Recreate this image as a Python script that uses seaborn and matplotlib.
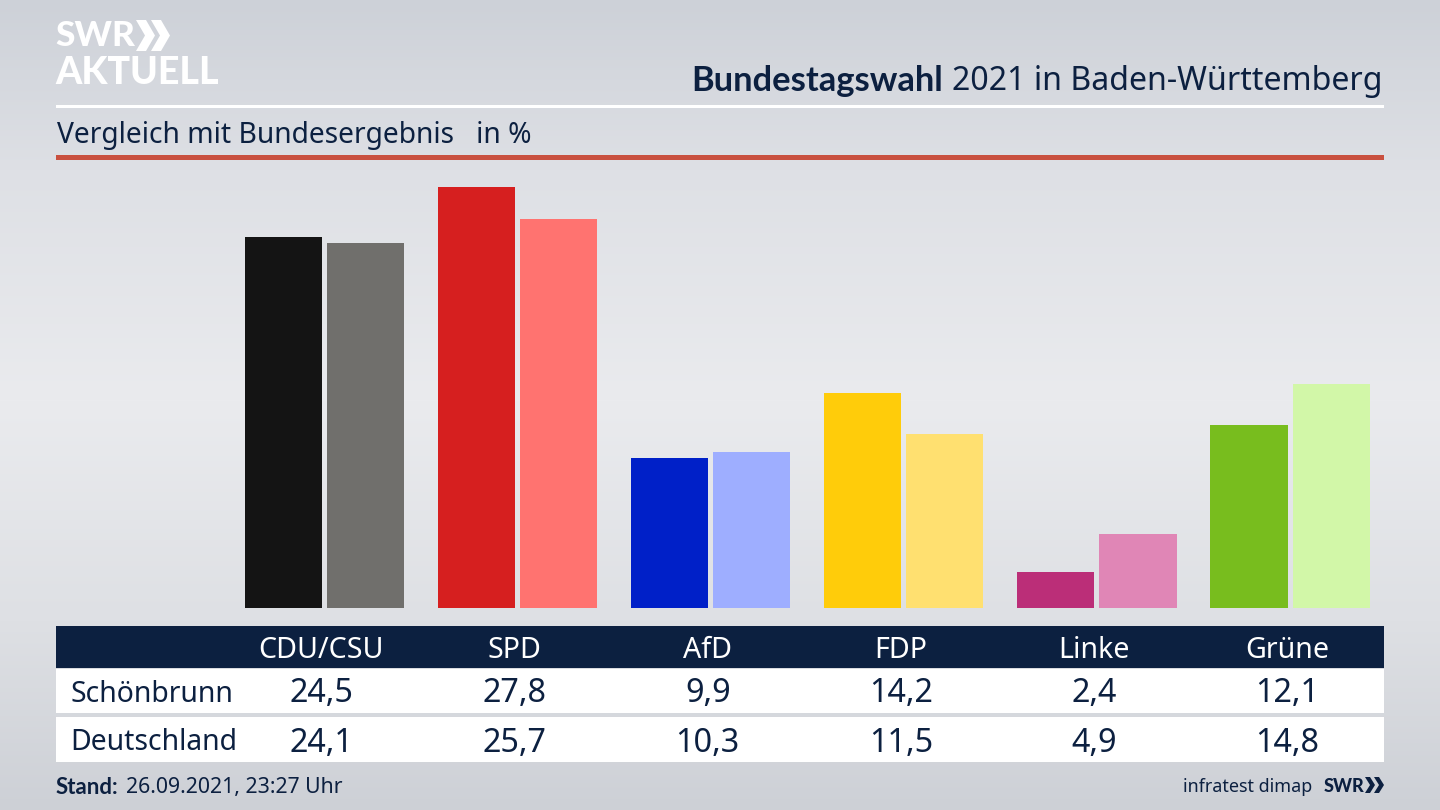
import numpy as np
import pandas as pd
import seaborn as sns
from matplotlib import pyplot as plt
from matplotlib.patches import Polygon, Rectangle

parties = ["CDU/CSU", "SPD", "AfD", "FDP", "Linke", "Grüne"]
schoenbrunn = [24.5, 27.8, 9.9, 14.2, 2.4, 12.1]
deutschland = [24.1, 25.7, 10.3, 11.5, 4.9, 14.8]
colors_schoenbrunn = ["#141414", "#d61f1f", "#0020c8", "#ffcc0a", "#bb2e78", "#78bd1e"]
colors_deutschland = ["#706f6c", "#ff7370", "#9eaeff", "#ffe070", "#e086b6", "#d2f7a8"]

NAVY = "#0c2040"
BOLD = ["Lato", "Open Sans", "DejaVu Sans"]

sns.set_theme(style="white")
plt.rcParams["font.family"] = ["Noto Sans", "DejaVu Sans"]

df = pd.DataFrame({
    "partei": parties * 2,
    "gebiet": ["Schönbrunn"] * 6 + ["Deutschland"] * 6,
    "prozent": schoenbrunn + deutschland,
})

fig = plt.figure(figsize=(14.4, 8.1), dpi=100)

# background and furniture, in pixel coordinates
bg = fig.add_axes([0, 0, 1, 1])
bg.set_xlim(0, 1440)
bg.set_ylim(810, 0)
bg.set_axis_off()
stops_y = [0, 170, 400, 620, 810]
stops_c = np.array([[205, 209, 216], [222, 224, 229], [234, 235, 238],
                    [222, 224, 228], [205, 208, 214]]) / 255
yy = np.arange(810)
grad = np.stack([np.interp(yy, stops_y, stops_c[:, i]) for i in range(3)], axis=1)
bg.imshow(grad[:, None, :], extent=(0, 1440, 810, 0), aspect="auto", zorder=0)

bg.add_patch(Rectangle((56, 105), 1328, 2.5, color="white", lw=0, zorder=1))
bg.add_patch(Rectangle((56, 155), 1328, 5, color="#c9503f", lw=0, zorder=1))
bg.add_patch(Rectangle((56, 626), 1328, 42, color=NAVY, lw=0, zorder=1))
bg.add_patch(Rectangle((56, 669), 1328, 44, color="white", lw=0, zorder=1))
bg.add_patch(Rectangle((56, 717), 1328, 45, color="white", lw=0, zorder=1))

# bars
ax = fig.add_axes([228 / 1440, (810 - 608) / 810, 1158.6 / 1440, 440 / 810])
ax.patch.set_alpha(0)
sns.barplot(data=df, x="partei", y="prozent", hue="gebiet", order=parties,
            hue_order=["Schönbrunn", "Deutschland"], width=0.85, gap=0.06,
            legend=False, ax=ax)
for bars, cols in zip(ax.containers, [colors_schoenbrunn, colors_deutschland]):
    for bar, col in zip(bars, cols):
        bar.set_facecolor(col)
        bar.set_edgecolor("none")
ax.set_xlim(-0.5, 5.5)
ax.set_ylim(0, 440 / 15.14)
ax.set_axis_off()

# table text, columns follow the bar axis
def col_px(i):
    return 321.5 + i * 193.1

for i, p in enumerate(parties):
    bg.text(col_px(i), 650, p, color="white", fontsize=20.6, ha="center", va="center", zorder=3)
    bg.text(col_px(i), 694, f"{schoenbrunn[i]:.1f}".replace(".", ","), color=NAVY,
            fontsize=23.3, ha="center", va="center", zorder=3)
    bg.text(col_px(i), 743, f"{deutschland[i]:.1f}".replace(".", ","), color=NAVY,
            fontsize=23.3, ha="center", va="center", zorder=3)
bg.text(70, 694, "Schönbrunn", color=NAVY, fontsize=20.4, va="center", zorder=3)
bg.text(70, 742, "Deutschland", color=NAVY, fontsize=20.4, va="center", zorder=3)

# heading
renderer = fig.canvas.get_renderer()
t = bg.text(1383, 81, "2021 in Baden-Württemberg", color=NAVY, fontsize=23.1,
            ha="right", va="center", zorder=3)
left = t.get_window_extent(renderer).x0
bg.text(left - 9, 81, "Bundestagswahl", color=NAVY, fontsize=24.8, fontweight="bold",
        family=BOLD, ha="right", va="center", zorder=3)
bg.text(57, 135, "Vergleich mit Bundesergebnis   in %", color=NAVY, fontsize=20.3,
        va="center", zorder=3)

# footer
s = bg.text(56, 788, "Stand:", color=NAVY, fontsize=16, fontweight="bold", family=BOLD,
            va="center", zorder=3)
right = s.get_window_extent(renderer).x1
bg.text(right + 7, 788, "26.09.2021, 23:27 Uhr", color=NAVY, fontsize=15.3, va="center", zorder=3)
bg.text(1312, 787, "infratest dimap", color=NAVY, fontsize=12.9, ha="right", va="center", zorder=3)
bg.text(1324, 786, "SWR", color=NAVY, fontsize=13, fontweight="black", family=BOLD,
        va="center", zorder=3)

# logo
bg.text(55, 36, "SWR", color="white", fontsize=25.5, fontweight="black", family=BOLD,
        va="center", zorder=3)
bg.text(55, 73, "AKTUELL", color="white", fontsize=27, fontweight="black", family=BOLD,
        va="center", zorder=3)

def chevron(x, y, w, h, t, color):
    pts = [(x, y), (x + t, y), (x + w, y + h / 2), (x + t, y + h), (x, y + h), (x + w - t, y + h / 2)]
    bg.add_patch(Polygon(pts, closed=True, color=color, lw=0, zorder=3))

chevron(136, 20, 19, 31, 10, "white")
chevron(151, 20, 19, 31, 10, "white")
chevron(1365, 777, 10, 16, 5, NAVY)
chevron(1374, 777, 10, 16, 5, NAVY)

fig.savefig("out.png", dpi=100)
